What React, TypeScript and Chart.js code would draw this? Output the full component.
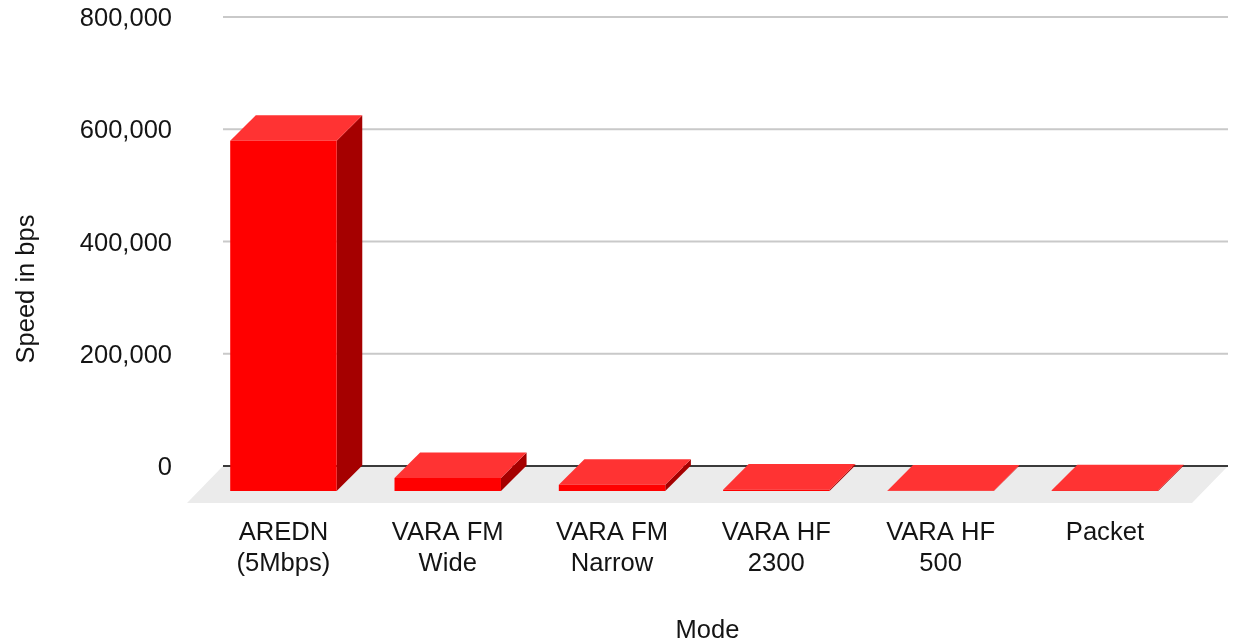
import React, { useEffect, useRef } from "react";
import { Chart, registerables } from "chart.js";

Chart.register(...registerables);

const categories = [["AREDN", "(5Mbps)"], ["VARA FM", "Wide"], ["VARA FM", "Narrow"], ["VARA HF", "2300"], ["VARA HF", "500"], ["Packet"]];
const speeds = [624000, 23000, 11000, 2300, 500, 1200];
const tickValues = [0, 200000, 400000, 600000, 800000];
const yTitle = "Speed in bps";
const xTitle = "Mode";

const FONT = "'Liberation Sans', Arial, sans-serif";
const DEPTH = 25.6;
const TEXT = "#141414";

const box3d = {
  id: "box3d",
  beforeDatasetsDraw(chart: any) {
    const { ctx } = chart;
    const back = chart.scales.yBack;
    const zero = back.getPixelForValue(0);
    const floorLeft = 223;
    const floorRight = 1228;
    const { bottom, left } = chart.chartArea;
    ctx.save();
    // floor
    ctx.fillStyle = "#ebebeb";
    ctx.beginPath();
    ctx.moveTo(floorLeft, zero);
    ctx.lineTo(floorRight, zero);
    ctx.lineTo(floorRight - (floorLeft - left), bottom);
    ctx.lineTo(left, bottom);
    ctx.closePath();
    ctx.fill();
    // gridlines on the back wall
    tickValues.forEach((v) => {
      const y = back.getPixelForValue(v);
      ctx.strokeStyle = v === 0 ? "#3a3a3a" : "#c9c9c9";
      ctx.lineWidth = 2;
      ctx.beginPath();
      ctx.moveTo(floorLeft, y);
      ctx.lineTo(floorRight, y);
      ctx.stroke();
    });
    // top and side faces
    chart.getDatasetMeta(0).data.forEach((bar: any) => {
      const { x, y, base, width } = bar.getProps(["x", "y", "base", "width"], true);
      const l = x - width / 2;
      const r = x + width / 2;
      ctx.fillStyle = "#a50000";
      ctx.beginPath();
      ctx.moveTo(r, y);
      ctx.lineTo(r + DEPTH, y - DEPTH);
      ctx.lineTo(r + DEPTH, base - DEPTH);
      ctx.lineTo(r, base);
      ctx.closePath();
      ctx.fill();
      ctx.fillStyle = "#ff3333";
      ctx.beginPath();
      ctx.moveTo(l, y);
      ctx.lineTo(l + DEPTH, y - DEPTH);
      ctx.lineTo(r + DEPTH, y - DEPTH);
      ctx.lineTo(r, y);
      ctx.closePath();
      ctx.fill();
    });
    ctx.restore();
  },
  afterDraw(chart: any) {
    const { ctx } = chart;
    ctx.save();
    ctx.translate(27, 289);
    ctx.rotate(-Math.PI / 2);
    ctx.font = `25.5px ${FONT}`;
    ctx.fillStyle = TEXT;
    ctx.textAlign = "center";
    ctx.textBaseline = "middle";
    ctx.fillText(yTitle, 0, 0);
    ctx.restore();
  },
};

const noPadding = (s: any) => {
  s.paddingTop = 0;
  s.paddingBottom = 0;
};

export default function App() {
  const ref = useRef<HTMLCanvasElement>(null);
  useEffect(() => {
    const chart = new Chart(ref.current as HTMLCanvasElement, {
      type: "bar",
      data: {
        datasets: [
          {
            label: yTitle,
            data: speeds.map((y, x) => ({ x, y })),
            backgroundColor: "#ff0000",
            borderWidth: 0,
            barPercentage: 0.648,
            categoryPercentage: 1,
            xAxisID: "x",
            yAxisID: "y",
          },
        ],
      },
      options: {
        animation: false,
        responsive: false,
        layout: { padding: { top: 17, right: 10, left: 0, bottom: 0 } },
        plugins: { legend: { display: false }, tooltip: { enabled: false }, title: { display: false } },
        scales: {
          x: {
            type: "linear",
            offset: false,
            min: -0.587,
            max: 5.749,
            grid: { display: false, drawTicks: false },
            border: { display: false },
            afterBuildTicks: (s: any) => {
              s.ticks = categories.map((_, i) => ({ value: i }));
            },
            afterFit: (s: any) => {
              s.height = 140;
            },
            ticks: {
              autoSkip: false,
              maxRotation: 0,
              padding: 15,
              color: TEXT,
              font: { family: FONT, size: 25.6 },
              callback: (v: any) => categories[v],
            },
            title: {
              display: true,
              text: xTitle,
              color: TEXT,
              font: { family: FONT, size: 25.5 },
              padding: { top: 0, bottom: -3 },
            },
          },
          y: {
            display: false,
            position: "left",
            min: -21381,
            max: 844543,
            afterFit: noPadding,
          },
          yBack: {
            position: "left",
            min: -65924,
            max: 800000,
            grid: { display: false, drawTicks: false },
            border: { display: false },
            afterBuildTicks: (s: any) => {
              s.ticks = tickValues.map((value) => ({ value }));
            },
            afterFit: (s: any) => {
              s.width = 187;
              noPadding(s);
            },
            ticks: {
              padding: 15,
              labelOffset: 2,
              color: TEXT,
              font: { family: FONT, size: 25.5 },
              callback: (v: any) => Number(v).toLocaleString("en-US"),
            },
          },
        },
      } as any,
      plugins: [box3d],
    });
    return () => chart.destroy();
  }, []);
  return (
    <canvas
      ref={ref}
      width={1238}
      height={643}
      style={{ position: "fixed", left: 0, top: 0, display: "block", background: "#ffffff" }}
    />
  );
}
